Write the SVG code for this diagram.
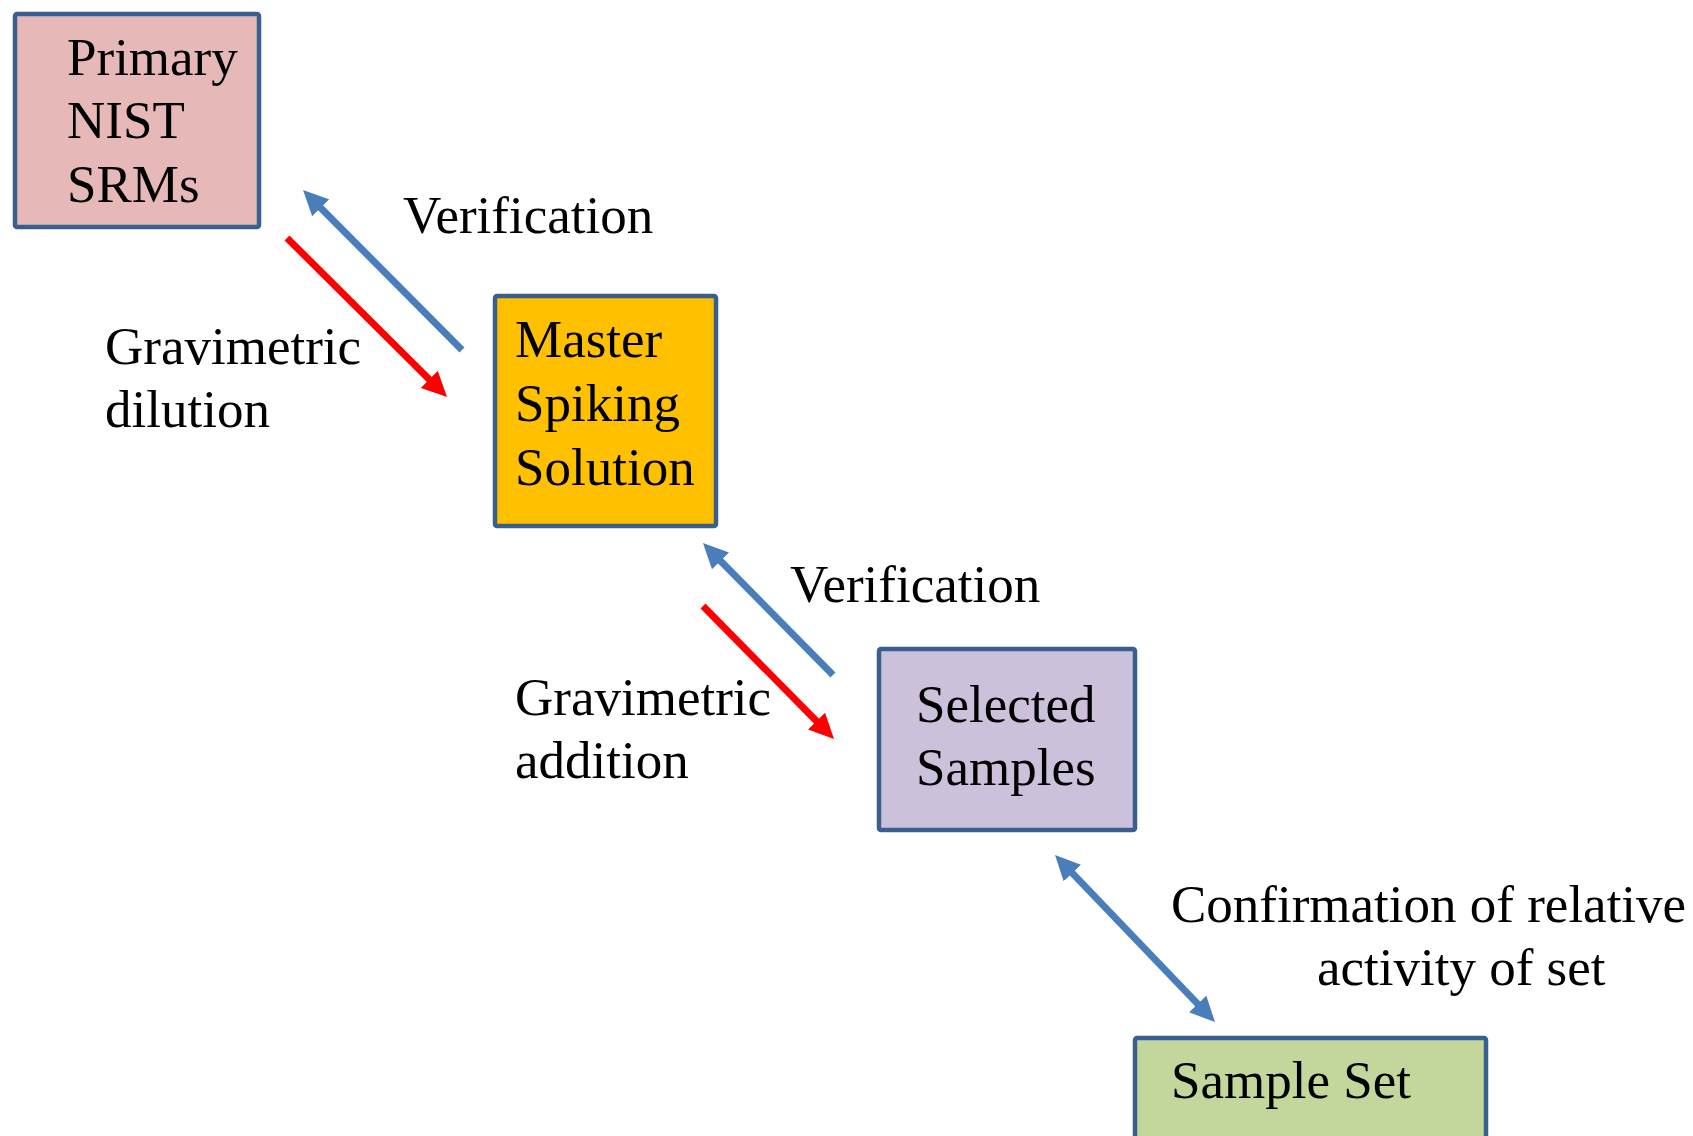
<svg xmlns="http://www.w3.org/2000/svg" width="1693" height="1136" viewBox="0 0 1693 1136">
  <style>
    .box { stroke: #3A5F8E; stroke-width: 4.5; }
    .t { font-family: "Liberation Serif", "Times New Roman", serif; font-size: 53px; fill: #000; }
    .blue { stroke: #4A7EBB; stroke-width: 7; fill: none; }
    .red { stroke: #FF0000; stroke-width: 7; fill: none; }
  </style>
  <defs>
    <marker id="ahBlue" markerUnits="userSpaceOnUse" markerWidth="26" markerHeight="24" refX="10" refY="12" orient="auto-start-reverse">
      <path d="M0,0 L25,12 L0,24 z" fill="#4A7EBB"/>
    </marker>
    <marker id="ahRed" markerUnits="userSpaceOnUse" markerWidth="26" markerHeight="24" refX="10" refY="12" orient="auto">
      <path d="M0,0 L25,12 L0,24 z" fill="#FF0000"/>
    </marker>
  </defs>
  <rect width="1693" height="1136" fill="#FFFFFF"/>

  <g id="node-primary">
    <rect class="box" x="15" y="14" width="244" height="213" rx="2" fill="#E6B9B8"/>
    <text class="t" x="67" y="75">Primary</text>
    <text class="t" x="67" y="138">NIST</text>
    <text class="t" x="67" y="202">SRMs</text>
  </g>

  <g id="node-master">
    <rect class="box" x="495" y="296" width="221" height="230" rx="2" fill="#FFC000"/>
    <text class="t" x="515" y="357">Master</text>
    <text class="t" x="515" y="421">Spiking</text>
    <text class="t" x="515" y="485">Solution</text>
  </g>

  <g id="node-selected">
    <rect class="box" x="879" y="649" width="256" height="181" rx="2" fill="#CCC1DA"/>
    <text class="t" x="916" y="722">Selected</text>
    <text class="t" x="916" y="785">Samples</text>
  </g>

  <g id="node-sampleset">
    <rect class="box" x="1135" y="1038" width="351" height="120" rx="2" fill="#C3D69B"/>
    <text class="t" x="1171" y="1098">Sample Set</text>
  </g>

  <g id="connectors">
    <line class="blue" x1="462" y1="350" x2="313.6" y2="200.7" marker-end="url(#ahBlue)"/>
    <line class="red" x1="287" y1="238" x2="436.4" y2="386.4" marker-end="url(#ahRed)"/>
    <line class="blue" x1="833" y1="675" x2="713.5" y2="553.7" marker-end="url(#ahBlue)"/>
    <line class="red" x1="703" y1="606" x2="823.5" y2="728.3" marker-end="url(#ahRed)"/>
    <line class="blue" x1="1065.4" y1="865.8" x2="1204.6" y2="1011.2" marker-start="url(#ahBlue)" marker-end="url(#ahBlue)"/>
  </g>

  <g id="labels">
    <text class="t" x="403" y="233">Verification</text>
    <text class="t" x="105" y="364">Gravimetric</text>
    <text class="t" x="105" y="427">dilution</text>
    <text class="t" x="790" y="602">Verification</text>
    <text class="t" x="515" y="715">Gravimetric</text>
    <text class="t" x="515" y="778">addition</text>
    <text class="t" x="1171" y="922">Confirmation of relative</text>
    <text class="t" x="1317" y="985">activity of set</text>
  </g>
</svg>
